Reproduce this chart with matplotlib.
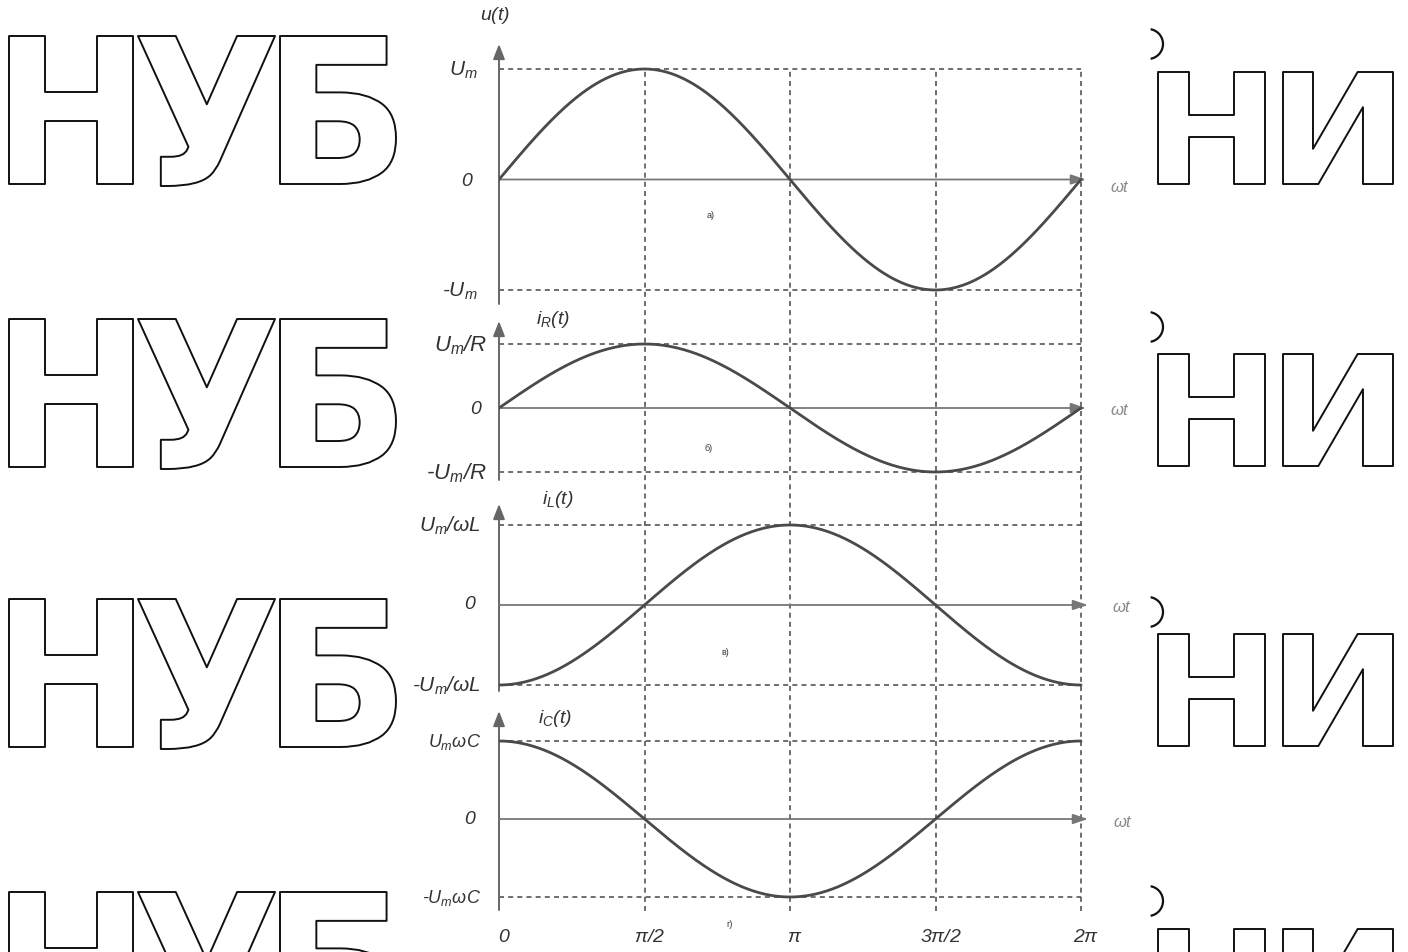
import numpy as np
import matplotlib
matplotlib.use("Agg")
import matplotlib.pyplot as plt
from matplotlib.textpath import TextPath
from matplotlib.patches import PathPatch, Arc
from matplotlib.font_manager import FontProperties
from matplotlib.transforms import Affine2D

plt.rcParams["font.family"] = ["Liberation Sans", "DejaVu Sans"]
plt.rcParams["mathtext.fontset"] = "custom"
plt.rcParams["mathtext.it"] = "Liberation Sans:italic"
plt.rcParams["mathtext.rm"] = "Liberation Sans:italic"

# ---- data -------------------------------------------------------------
panel_names = ["u(t)", "i_R(t)", "i_L(t)", "i_C(t)"]
panel_tags = ["а)", "б)", "в)", "г)"]
amplitudes = [1.0, 1.0, 1.0, 1.0]
# phase of each waveform relative to the voltage (radians)
phases = [0.0, 0.0, -np.pi / 2, np.pi / 2]
top_labels = [r"$U_m$", r"$U_m/R$", r"$U_m/\omega L$", r"$U_m\omega C$"]
bottom_labels = [r"-$U_m$", r"-$U_m/R$", r"-$U_m/\omega L$", r"-$U_m\omega C$"]
x_ticks = [0, np.pi / 2, np.pi, 3 * np.pi / 2, 2 * np.pi]
x_tick_labels = ["0", r"$\pi/2$", r"$\pi$", r"$3\pi/2$", r"$2\pi$"]

# ---- figure geometry (pixels) ----------------------------------------
W, H = 1408, 953
fig = plt.figure(figsize=(W / 100, H / 100), dpi=100)
fig.patch.set_facecolor("white")

X0, X2PI, XRIGHT = 499, 1081, 1095
XSCALE = (X2PI - X0) / (2 * np.pi)

# (axes top, axes bottom, y of +A, y of -A)
geom = [
    (45, 305, 70, 291),
    (322, 481, 345, 473),
    (505, 692, 526, 686),
    (712, 911, 742, 898),
]
ylab_right = [478, 487, 481, 481]
top_label_size = [15, 16, 15, 13]
zero_y = [181, 409, 605, 820]
name_pos = [(495, 16), (553, 320), (558, 500), (555, 719)]
tag_pos = [(711, 216), (709, 449), (725, 653), (730, 925)]
arrow_tip_x = [1086, 1086, 1088, 1088]
wt_pos = [(1120, 187), (1120, 411), (1122, 608), (1123, 823)]

# ---- watermark --------------------------------------------------------
wm = fig.add_axes([0, 0, 1, 1], zorder=-5)
wm.set_xlim(0, W)
wm.set_ylim(H, 0)
wm.axis("off")
wm_font = FontProperties(family="DejaVu Sans", weight="bold")


def glyph(ch, left, right, top, bottom):
    tp = TextPath((0, 0), ch, size=100, prop=wm_font)
    bb = tp.get_extents()
    tr = (Affine2D().translate(-bb.x0, -bb.y0)
          .scale((right - left) / bb.width, -(bottom - top) / bb.height)
          .translate(left, bottom))
    wm.add_patch(PathPatch(tr.transform_path(tp), facecolor="white",
                           edgecolor="#111111", lw=1.4, joinstyle="round"))


left_rows = [37, 320, 600, 893]
right_rows = [73, 355, 635, 930]
paren_rows = [30, 313, 598, 887]
for lt, rt, pt in zip(left_rows, right_rows, paren_rows):
    glyph("Н", 9, 133, lt, lt + 148)
    glyph("У", 138, 275, lt, lt + 150)
    glyph("Б", 280, 396, lt, lt + 148)
    glyph("Н", 1158, 1265, rt, rt + 112)
    glyph("И", 1283, 1393, rt, rt + 112)
    wm.add_patch(Arc((1148, pt + 15), 30, 30, theta1=-80, theta2=80,
                     color="#111111", lw=1.6))

# ---- vertical dashed guides shared by all panels ----------------------
gtop, gbot = 70, 912
gax = fig.add_axes([X0 / W, 1 - gbot / H, (XRIGHT - X0) / W, (gbot - gtop) / H],
                   zorder=1)
gax.set_xlim(0, (XRIGHT - X0) / XSCALE)
gax.set_ylim(0, 1)
gax.axis("off")
gax.patch.set_alpha(0)
for xv in x_ticks[1:]:
    gax.axvline(xv, color="#555555", lw=1.2, ls=(0, (3, 2.5)))

# ---- panels -----------------------------------------------------------
t = np.linspace(0, 2 * np.pi, 400)
grey = "#4a4a4a"
for i in range(4):
    ptop, pbot, yp, ym = geom[i]
    ax = fig.add_axes([X0 / W, 1 - pbot / H, (XRIGHT - X0) / W, (pbot - ptop) / H],
                      zorder=2)
    ax.patch.set_alpha(0)
    ax.axis("off")
    s = (ym - yp) / 2
    ymax = 1 + (yp - ptop) / s
    ymin = -1 - (pbot - ym) / s
    ax.set_xlim(0, (XRIGHT - X0) / XSCALE)
    ax.set_ylim(ymin, ymax)
    A = amplitudes[i]

    # amplitude guides
    for lv in (A, -A):
        ax.plot([0, 2 * np.pi], [lv, lv], color="#555555", lw=1.2,
                ls=(0, (3, 2.5)), zorder=1)

    # axes with arrows
    ax.annotate("", xy=(0, ymax), xytext=(0, ymin), annotation_clip=False,
                arrowprops=dict(arrowstyle="-|>,head_length=0.9,head_width=0.35",
                                color="#666666", lw=1.4, shrinkA=0, shrinkB=0))
    ax.annotate("", xy=((arrow_tip_x[i] - X0) / XSCALE, 0), xytext=(0, 0),
                annotation_clip=False,
                arrowprops=dict(arrowstyle="-|>,head_length=0.9,head_width=0.3",
                                color="#777777", lw=1.3, shrinkA=0, shrinkB=0))

    # waveform
    ax.plot(t, A * np.sin(t + phases[i]), color=grey, lw=2.0, zorder=3,
            solid_capstyle="round")

    # y labels
    fs = top_label_size[i]
    fig.text(ylab_right[i] / W, 1 - yp / H, top_labels[i], ha="right",
             va="center", fontsize=fs, color="#333333")
    fig.text(ylab_right[i] / W, 1 - ym / H, bottom_labels[i], ha="right",
             va="center", fontsize=fs, color="#333333", style="italic")
    fig.text((ylab_right[i] - 6) / W, 1 - zero_y[i] / H, "0", ha="right",
             va="center", fontsize=14, color="#333333", style="italic")

    name = panel_names[i]
    if "_" in name:
        sym, sub = name.split("_")
        label = r"$%s_{%s}(t)$" % (sym, sub[0])
    else:
        label = r"$u(t)$"
    fig.text(name_pos[i][0] / W, 1 - name_pos[i][1] / H, label, ha="center",
             va="center", fontsize=14, color="#333333")
    fig.text(tag_pos[i][0] / W, 1 - tag_pos[i][1] / H, panel_tags[i],
             ha="center", va="center", fontsize=6.5, color="#333333")
    fig.text(wt_pos[i][0] / W, 1 - wt_pos[i][1] / H, r"$\omega t$",
             ha="center", va="center", fontsize=12, color="#8a8a8a")

# x tick labels under the last panel
for xv, lab in zip(x_ticks, x_tick_labels):
    fig.text((X0 + xv * XSCALE + 5) / W, 1 - 938 / H, lab, ha="center",
             va="center", fontsize=14, color="#333333", style="italic")

fig.savefig("out.png", dpi=100, facecolor="white")
